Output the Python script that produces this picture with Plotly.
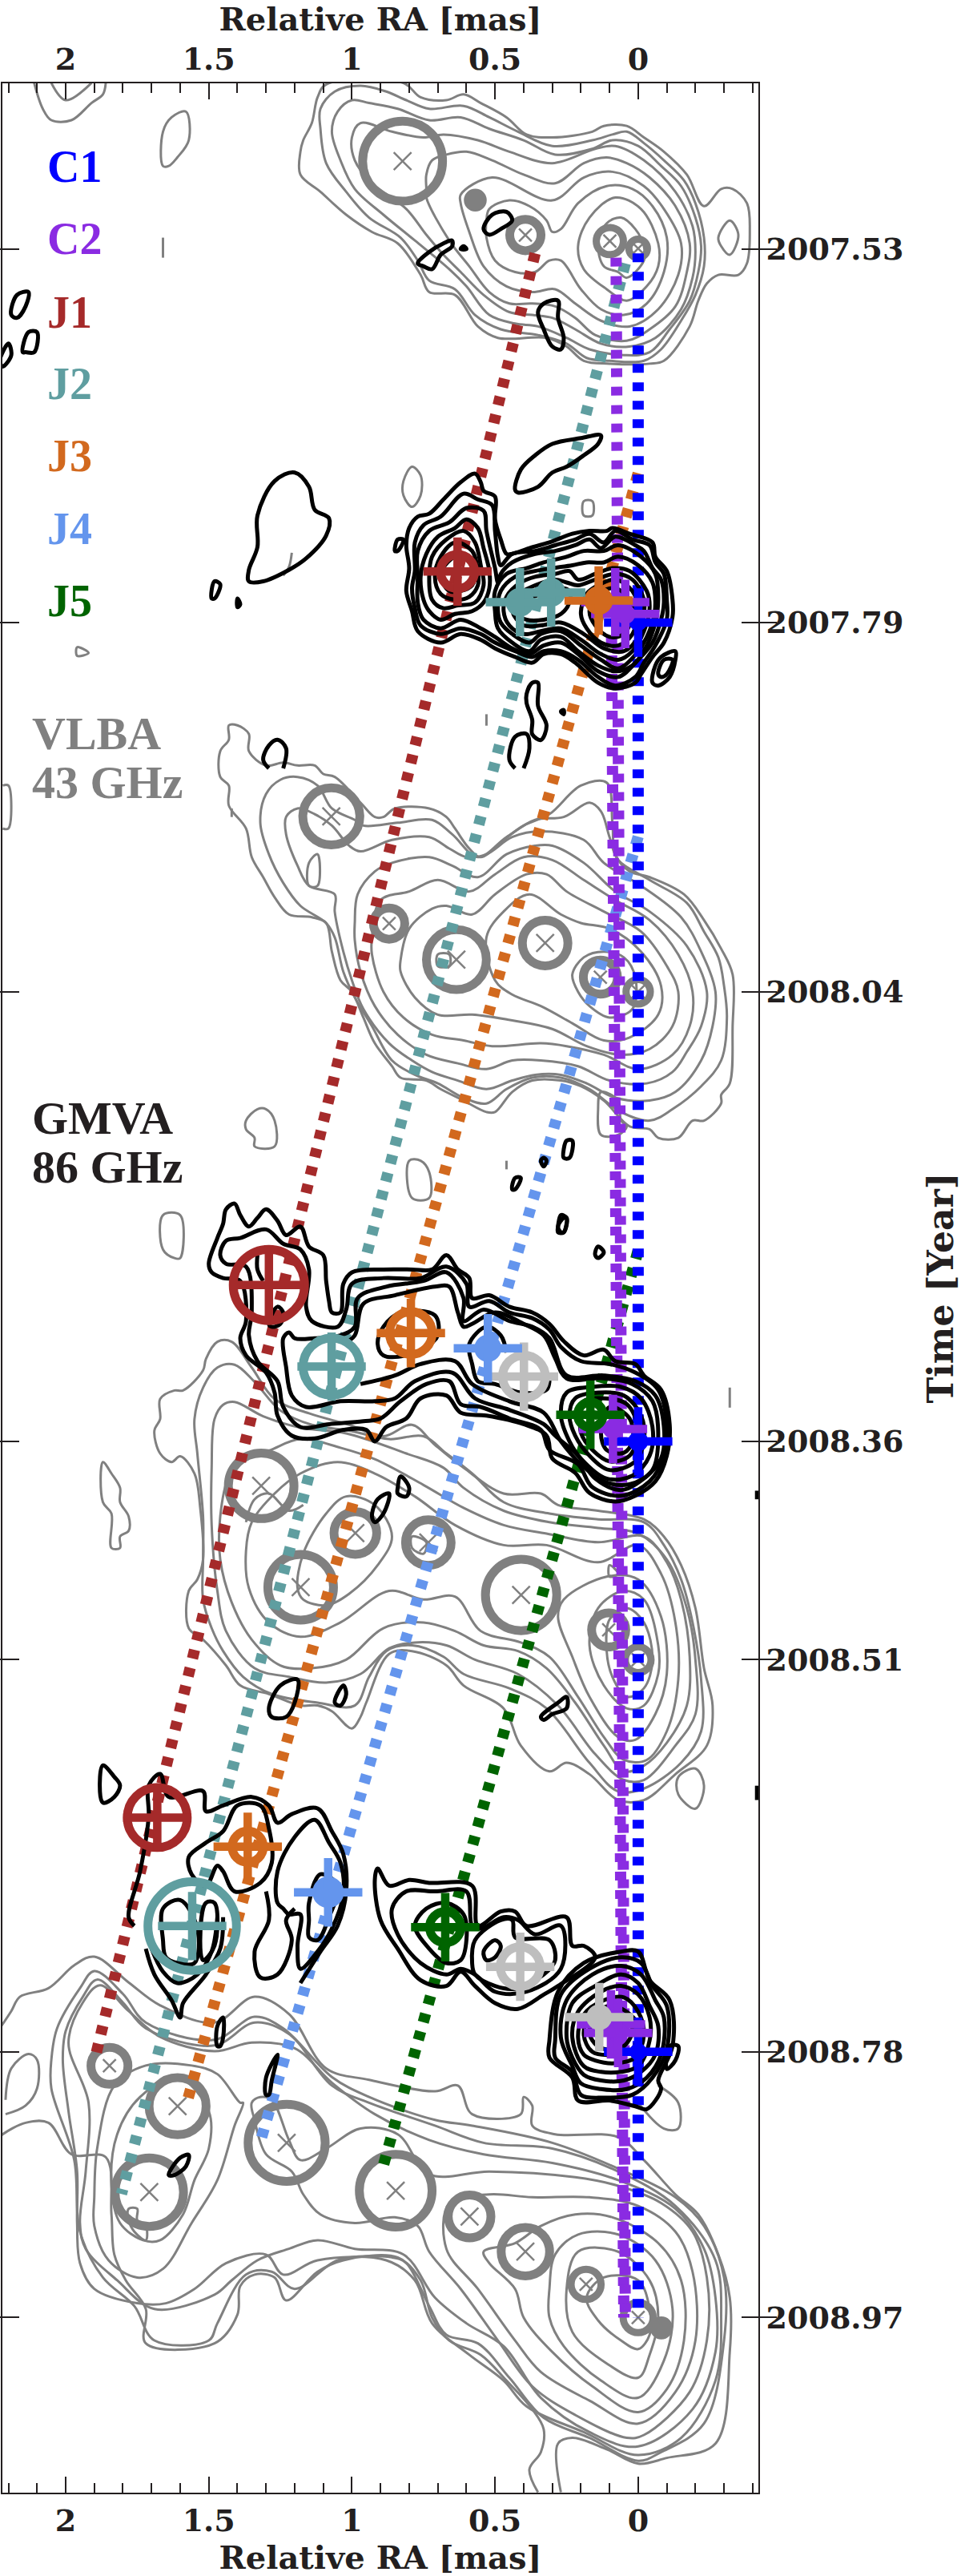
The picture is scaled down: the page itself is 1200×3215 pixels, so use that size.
import plotly.graph_objects as go

# tick epochs (true date, rounded label)
epochs = [2007.53, 2007.79, 2008.047, 2008.36, 2008.512, 2008.785, 2008.97]
epoch_labels = ["2007.53", "2007.79", "2008.04", "2008.36", "2008.51", "2008.78", "2008.97"]
ra_ticks = [2, 1.5, 1, 0.5, 0]
ra_labels = ["2", "1.5", "1", "0.5", "0"]
MAS_TO_YEAR = 0.1994  # vertical scale of the stacked maps

# contours are (relative RA, relative Dec) in mas around each epoch
# VLBA 2007.53
vlba_0753 = [
 [(1.18,.34),(1.17,.38),(1.14,.44),(1.12,.53),(1.09,.575),(.82,.58),(.76,.53),(.67,.52),(.61,.54),(.55,.51),(.46,.46),(.39,.40),(.30,.39),(.16,.41),(.12,.43),(.04,.43),(-.02,.39),(-.09,.34),(-.17,.26),(-.23,.15),(-.29,.21),(-.33,.21),(-.38,.16),(-.39,.06),(-.38,-.05),(-.35,-.09),(-.28,-.09),(-.24,-.12),(-.21,-.18),(-.18,-.27),(-.09,-.39),(-.04,-.40),(.10,-.40),(.19,-.39),(.25,-.34),(.32,-.31),(.49,-.31),(.56,-.27),(.64,-.16),(.73,-.15),(.76,-.09),(.84,.02),(.93,.06),(1.02,.12),(1.11,.20),(1.18,.26)],
 [(1.11,.42),(1.11,.49),(1.06,.55),(.97,.57),(.88,.55),(.81,.52),(.73,.49),(.61,.50),(.52,.46),(.42,.41),(.30,.36),(.16,.38),(.09,.40),(.04,.41),(-.02,.37),(-.09,.31),(-.16,.24),(-.20,.16),(-.23,.04),(-.23,-.06),(-.20,-.16),(-.15,-.25),(-.08,-.35),(-.02,-.39),(.10,-.39),(.18,-.38),(.25,-.33),(.35,-.30),(.48,-.28),(.57,-.23),(.64,-.14),(.73,-.11),(.77,-.04),(.83,.04),(.94,.11),(1.02,.20),(1.09,.30)],
 [(1.07,.41),(1.05,.48),(1.00,.52),(.94,.51),(.84,.49),(.73,.45),(.62,.46),(.52,.42),(.40,.38),(.29,.33),(.16,.35),(.09,.38),(0,.36),(-.08,.29),(-.15,.22),(-.20,.11),(-.22,.01),(-.21,-.08),(-.18,-.18),(-.11,-.28),(-.04,-.36),(.05,-.37),(.17,-.35),(.25,-.31),(.35,-.27),(.43,-.26),(.52,-.23),(.60,-.13),(.66,-.07),(.78,.03),(.89,.12),(.99,.21),(1.04,.31)],
 [(1.00,.39),(.97,.44),(.86,.41),(.75,.39),(.68,.40),(.56,.38),(.45,.34),(.30,.30),(.15,.35),(.08,.36),(-.02,.31),(-.13,.20),(-.19,.08),(-.20,-.01),(-.19,-.10),(-.15,-.21),(-.06,-.31),(.03,-.34),(.13,-.33),(.22,-.28),(.30,-.24),(.37,-.23),(.45,-.22),(.54,-.16),(.62,-.08),(.68,-.02),(.74,.05),(.81,.14),(.93,.23),(.99,.31)],
 [(.74,.21),(.74,.26),(.72,.31),(.67,.33),(.60,.34),(.51,.31),(.40,.26),(.29,.23),(.19,.30),(.11,.32),(.04,.30),(-.04,.25),(-.13,.15),(-.18,.02),(-.17,-.08),(-.13,-.20),(-.04,-.28),(.04,-.32),(.15,-.30),(.22,-.24),(.29,-.20),(.37,-.19),(.45,-.19),(.52,-.15),(.59,-.06),(.66,.03),(.74,.18)],
 [(.62,.19),(.51,.25),(.30,.17),(.19,.25),(.09,.27),(-.02,.22),(-.09,.14),(-.15,.02),(-.14,-.09),(-.07,-.21),(.03,-.27),(.13,-.25),(.22,-.19),(.29,-.14),(.37,-.15),(.46,-.13),(.54,-.06),(.59,.06),(.62,.16)],
 [(.53,.10),(.52,.14),(.45,.17),(.38,.15),(.32,.10),(.30,.06),(.27,.07),(.21,.16),(.11,.22),(.02,.21),(-.05,.15),(-.10,.04),(-.09,-.08),(-.03,-.19),(.05,-.23),(.13,-.21),(.20,-.14),(.27,-.04),(.31,-.04),(.36,-.08),(.43,-.08),(.50,-.04),(.53,.04)],
 [(.21,.01),(.17,.11),(.08,.18),(-.01,.14),(-.07,.02),(-.07,-.06),(-.03,-.13),(.04,-.18),(.11,-.14),(.19,-.07)],
 [(.14,.02),(.11,.09),(.06,.11),(.01,.07),(-.02,.01),(-.02,-.04),(.04,-.10),(.07,-.08),(.12,-.06)],
 [(-.28,.04),(-.32,.10),(-.35,.05),(-.32,-.02),(-.29,.01)],
 [(1.66,.41),(1.63,.46),(1.58,.48),(1.57,.38),(1.61,.32),(1.64,.29),(1.66,.29)],
 [(.82,-.81),(.79,-.76),(.76,-.79),(.76,-.86),(.79,-.90),(.82,-.86)],
 [(.19,-.88),(.16,-.88),(.16,-.93),(.19,-.93)],
 [(1.96,-1.39),(1.96,-1.42),(1.92,-1.41)],
]
vlba_0753_open = [
 [(2.11,.58),(2.08,.49),(2.05,.45),(1.98,.45),(1.91,.51),(1.87,.54),(1.86,.58)],
 [(2.05,.58),(2.00,.52),(1.91,.58)],
 [(1.66,.04),(1.66,-.03)],
 [(1.21,-1.06),(1.22,-1.11),(1.24,-1.14)],
]
gmva_noise_0753 = [
 [(.54,.07),(.51,.12),(.46,.13),(.44,.10),(.48,.07),(.52,.05)],
 [(.77,-.05),(.73,-.01),(.68,.02),(.65,.03),(.65,.01),(.69,-.02),(.72,-.07),(.75,-.06)],
 [(.35,-.22),(.33,-.19),(.28,-.18),(.28,-.24),(.26,-.31),(.27,-.35),(.30,-.34),(.33,-.28)],
 [(.43,-.84),(.41,-.77),(.36,-.72),(.30,-.68),(.20,-.66),(.13,-.65),(.14,-.68),(.19,-.72),(.25,-.76),(.30,-.78),(.35,-.83),(.42,-.85)],
 [(2.19,-.23),(2.17,-.16),(2.13,-.15),(2.14,-.20),(2.17,-.24)],
 [(2.15,-.36),(2.13,-.29),(2.10,-.29),(2.11,-.36),(2.14,-.36)],
 [(2.23,-.39),(2.20,-.33),(2.19,-.37),(2.22,-.41)],
 [(1.36,-1.12),(1.33,-1.04),(1.33,-.93),(1.27,-.81),(1.20,-.78),(1.15,-.83),(1.13,-.91),(1.08,-.94),(1.09,-1.00),(1.16,-1.08),(1.22,-1.12),(1.31,-1.16),(1.36,-1.16)],
 [(1.49,-1.22),(1.48,-1.16),(1.46,-1.17),(1.48,-1.22)],
 [(1.40,-1.25),(1.40,-1.22),(1.39,-1.24)],
 [(.62,0),(.61,.01),(.60,0)],
]

# GMVA 2007.79
gmva_0779 = [
 [(.80,.19),(.81,.27),(.80,.33),(.77,.37),(.73,.38),(.68,.43),(.62,.49),(.57,.52),(.55,.49),(.54,.46),(.50,.44),(.50,.36),(.48,.29),(.46,.24),(.44,.24),(.38,.26),(.31,.28),(.23,.31),(.17,.32),(.11,.32),(.09,.33),(.03,.31),(-.05,.28),(-.06,.23),(-.10,.18),(-.12,.08),(-.12,.02),(-.09,-.07),(-.05,-.12),(-.01,-.18),(.01,-.21),(.08,-.23),(.14,-.21),(.22,-.14),(.27,-.11),(.33,-.11),(.37,-.14),(.43,-.12),(.50,-.09),(.55,-.06),(.62,-.04),(.69,-.07),(.77,-.03),(.79,.04),(.81,.11)],
 [(.78,.18),(.78,.28),(.75,.34),(.69,.37),(.61,.45),(.56,.43),(.51,.41),(.50,.32),(.49,.23),(.48,.20),(.44,.24),(.36,.25),(.29,.27),(.22,.29),(.17,.31),(.12,.28),(.08,.32),(.02,.29),(-.04,.27),(-.06,.21),(-.09,.17),(-.10,.08),(-.10,.01),(-.06,-.08),(-.02,-.14),(.01,-.19),(.08,-.22),(.14,-.19),(.21,-.13),(.27,-.10),(.33,-.10),(.37,-.12),(.43,-.10),(.50,-.07),(.55,-.04),(.62,-.02),(.69,-.04),(.76,-.01),(.78,.05),(.79,.12)],
 [(.77,.16),(.77,.25),(.73,.32),(.66,.35),(.60,.40),(.54,.39),(.53,.32),(.50,.19),(.49,.14),(.48,.17),(.44,.21),(.36,.24),(.29,.25),(.22,.27),(.17,.29),(.13,.26),(.08,.30),(.01,.27),(-.02,.25),(-.05,.19),(-.08,.15),(-.09,.07),(-.08,.01),(-.05,-.07),(0,-.13),(.07,-.19),(.14,-.17),(.21,-.11),(.27,-.07),(.33,-.08),(.38,-.11),(.44,-.09),(.50,-.05),(.55,-.02),(.62,.01),(.69,-.02),(.75,.01),(.77,.07)],
 [(.76,.16),(.74,.24),(.70,.30),(.64,.33),(.60,.36),(.56,.33),(.54,.26),(.52,.18),(.52,.12),(.54,.07),(.58,.04),(.64,.03),(.69,.01),(.73,.04),(.75,.08)],
 [(.73,.16),(.72,.23),(.67,.29),(.61,.32),(.57,.28),(.55,.20),(.54,.13),(.57,.07),(.63,.06),(.68,.05),(.72,.08)],
 [(.71,.16),(.69,.23),(.64,.28),(.58,.25),(.56,.18),(.56,.13),(.59,.09),(.64,.08),(.69,.10)],
 [(.69,.17),(.64,.23),(.60,.23),(.57,.18),(.58,.13),(.62,.11),(.66,.11)],
 [(.50,.04),(.50,.11),(.46,.17),(.39,.19),(.33,.21),(.25,.23),(.19,.25),(.12,.25),(.07,.27),(-.01,.23),(-.06,.17),(-.07,.08),(-.06,0),(-.03,-.08),(.02,-.15),(.08,-.17),(.14,-.15),(.21,-.10),(.27,-.05),(.34,-.06),(.38,-.10),(.44,-.07),(.49,-.02)],
 [(.49,.04),(.48,.11),(.43,.16),(.36,.18),(.30,.19),(.23,.20),(.18,.21),(.12,.21),(.07,.23),(0,.20),(-.05,.14),(-.06,.07),(-.05,0),(0,-.10),(.07,-.16),(.13,-.13),(.20,-.08),(.27,-.03),(.34,-.04),(.38,-.07),(.44,-.04),(.48,0)],
 [(.47,.04),(.46,.09),(.41,.14),(.36,.16),(.29,.17),(.24,.18),(.21,.15),(.15,.17),(.09,.19),(.03,.18),(-.03,.11),(-.04,.05),(-.02,-.03),(.02,-.10),(.07,-.13),(.13,-.11),(.20,-.06),(.27,-.02),(.34,-.03),(.40,-.04),(.45,-.01)],
 [(.44,.04),(.43,.09),(.36,.13),(.29,.15),(.25,.14),(.21,.13),(.15,.15),(.08,.17),(.02,.15),(-.02,.08),(-.02,.03),(0,-.05),(.05,-.10),(.12,-.09),(.19,-.04),(.27,0),(.34,-.01),(.40,-.01)],
 [(.20,.03),(.18,.10),(.14,.13),(.08,.15),(.02,.11),(0,.04),(.02,-.04),(.07,-.08),(.13,-.07),(.18,-.02)],
 [(.17,.04),(.14,.10),(.08,.12),(.03,.08),(.02,.03),(.05,-.04),(.10,-.05),(.15,-.01)],
 [(.42,.03),(.40,.07),(.34,.10),(.27,.12),(.24,.11),(.24,.07),(.27,.03),(.33,.01),(.39,.01)],
 [(-.05,-.21),(-.06,-.15),(-.08,-.12),(-.13,-.10),(-.13,-.13),(-.11,-.19),(-.07,-.22)],
 [(-.07,-.18),(-.09,-.13),(-.12,-.13),(-.10,-.18),(-.08,-.19)],
 [(.85,.26),(.84,.29),(.82,.29),(.84,.25),(.85,.25)],
 [(.39,-.25),(.37,-.21),(.35,-.21),(.35,-.29),(.32,-.36),(.34,-.41),(.37,-.39),(.37,-.34),(.39,-.28)],
 [(.27,-.31),(.26,-.305),(.26,-.32)],
]
vlba_0779_open = [[(.53,-.32),(.53,-.36)]]

# VLBA 2008.04
vlba_0804 = [
 [(1.46,.84),(1.43,.88),(1.43,.93),(1.40,.93),(1.36,.90),(1.36,.84),(1.30,.79),(1.24,.80),(1.19,.79),(1.13,.79),(1.10,.76),(1.06,.75),(.97,.66),(.92,.61),(.89,.61),(.85,.64),(.73,.64),(.67,.61),(.64,.57),(.59,.50),(.55,.47),(.47,.53),(.40,.58),(.31,.62),(.20,.72),(.11,.73),(.09,.59),(.08,.48),(.03,.42),(-.04,.40),(-.16,.34),(-.23,.25),(-.29,.15),(-.33,.06),(-.33,-.12),(-.32,-.32),(-.29,-.36),(-.29,-.39),(-.23,-.45),(-.19,-.45),(-.14,-.51),(-.07,-.51),(-.04,-.48),(.03,-.47),(.12,-.38),(.20,-.33),(.27,-.31),(.37,-.31),(.44,-.35),(.50,-.42),(.53,-.42),(.61,-.38),(.69,-.34),(.74,-.31),(.83,-.30),(.86,-.26),(.92,-.18),(.96,-.09),(1.00,0),(1.04,.04),(1.07,.14),(1.09,.24),(1.14,.26),(1.22,.27),(1.27,.33),(1.31,.40),(1.35,.47),(1.37,.57),(1.43,.65),(1.43,.72),(1.46,.75)],
 [(1.32,.59),(1.30,.69),(1.25,.74),(1.19,.75),(1.12,.72),(1.07,.64),(.99,.60),(.96,.58),(.84,.59),(.72,.60),(.65,.55),(.56,.47),(.46,.54),(.36,.60),(.26,.61),(.17,.66),(.13,.63),(.10,.54),(.07,.46),(-.04,.39),(-.17,.31),(-.23,.21),(-.28,.12),(-.30,.02),(-.31,-.09),(-.29,-.24),(-.22,-.33),(-.12,-.41),(-.04,-.45),(.06,-.42),(.17,-.34),(.27,-.30),(.37,-.30),(.46,-.34),(.53,-.39),(.61,-.37),(.70,-.32),(.78,-.29),(.86,-.24),(.93,-.12),(.99,-.02),(1.03,.07),(1.06,.19),(1.09,.24),(1.18,.30),(1.24,.38),(1.29,.48)],
 [(1.23,.55),(1.23,.61),(1.19,.64),(1.13,.62),(1.07,.58),(1.01,.51),(.97,.49),(.86,.53),(.73,.54),(.66,.50),(.60,.47),(.53,.48),(.44,.54),(.34,.56),(.19,.53),(.12,.45),(-.01,.37),(-.15,.26),(-.22,.14),(-.27,0),(-.26,-.12),(-.22,-.24),(-.13,-.35),(-.04,-.38),(.08,-.37),(.18,-.32),(.27,-.29),(.36,-.29),(.44,-.31),(.53,-.34),(.63,-.31),(.72,-.28),(.79,-.24),(.87,-.18),(.96,-.06),(1.00,.04),(1.03,.14),(1.06,.28),(1.06,.34),(1.15,.37),(1.19,.44)],
 [(.99,.24),(.98,.34),(.92,.42),(.86,.45),(.73,.47),(.65,.44),(.56,.40),(.46,.48),(.36,.51),(.30,.51),(.19,.45),(.08,.35),(-.04,.28),(-.17,.16),(-.24,0),(-.22,-.12),(-.17,-.21),(-.12,-.28),(-.03,-.32),(.10,-.31),(.21,-.26),(.34,-.24),(.44,-.24),(.53,-.27),(.63,-.25),(.74,-.22),(.84,-.15),(.92,-.05),(.97,.07),(.99,.18)],
 [(.93,.19),(.90,.32),(.80,.35),(.70,.39),(.59,.35),(.50,.41),(.40,.47),(.30,.46),(.19,.39),(.08,.32),(-.04,.25),(-.14,.13),(-.19,0),(-.18,-.12),(-.12,-.22),(0,-.27),(.12,-.22),(.25,-.19),(.34,-.18),(.51,-.19),(.61,-.17),(.72,-.15),(.82,-.09),(.89,0),(.93,.13)],
 [(.83,.11),(.80,.22),(.72,.29),(.67,.30),(.58,.27),(.50,.34),(.39,.41),(.32,.41),(.25,.35),(.12,.28),(-.01,.21),(-.10,.09),(-.14,0),(-.12,-.12),(-.04,-.20),(.06,-.22),(.18,-.19),(.30,-.13),(.44,-.10),(.58,-.08),(.70,-.08),(.78,-.02),(.83,.07)],
 [(.53,.19),(.47,.28),(.38,.34),(.27,.27),(.20,.24),(.10,.22),(-.01,.14),(-.08,.02),(-.07,-.08),(.03,-.16),(.12,-.17),(.23,-.11),(.34,-.05),(.44,-.01),(.50,.04)],
 [(.23,.06),(.19,.12),(.12,.14),(.05,.12),(.01,.05),(.02,-.06),(.10,-.09),(.17,-.05),(.21,0)],
 [(1.15,.45),(1.12,.48),(1.12,.37),(1.15,.37)],
 [(.70,.13),(.66,.13),(.66,.09),(.70,.09)],
 [(.13,-.35),(.07,-.38),(.06,-.45),(.04,-.47),(.07,-.50),(.13,-.50),(.14,-.41)],
 [(1.37,-.45),(1.33,-.41),(1.30,-.41),(1.27,-.45),(1.27,-.54),(1.34,-.54),(1.34,-.51),(1.37,-.48)],
 [(.80,-.59),(.76,-.59),(.73,-.63),(.73,-.72),(.79,-.72)],
 [(1.66,-.78),(1.60,-.78),(1.60,-.93),(1.62,-.93),(1.66,-.90)],
]
vlba_0804_open = [
 [(1.42,.64),(1.42,.61)],
 [(2.22,.72),(2.20,.72),(2.20,.57),(2.22,.57)],
 [(.46,-.59),(.46,-.62)],
]
gmva_noise_0804 = [
 [(.26,-.55),(.25,-.52),(.23,-.52),(.24,-.58),(.26,-.58)],
 [(.34,-.59),(.33,-.58),(.32,-.59),(.33,-.61)],
 [(.44,-.69),(.43,-.65),(.41,-.65),(.43,-.69)],
 [(.28,-.82),(.27,-.78),(.25,-.79),(.26,-.84),(.28,-.84)],
]
gmva_noise_0804_open = [
 [(.40,.78),(.38,.85),(.39,.90),(.43,.89),(.45,.81),(.43,.78)],
 [(1.29,.78),(1.31,.81),(1.29,.86),(1.26,.88),(1.23,.85),(1.24,.78)],
]

# GMVA 2008.36
gmva_0836 = [
 [(1.50,.62),(1.47,.71),(1.45,.76),(1.44,.81),(1.41,.83),(1.39,.79),(1.36,.75),(1.33,.78),(1.30,.81),(1.26,.77),(1.23,.72),(1.18,.75),(1.15,.68),(1.10,.65),(1.09,.56),(1.08,.49),(1.07,.45),(1.04,.45),(1.03,.55),(1.00,.59),(.89,.60),(.79,.60),(.72,.60),(.67,.65),(.63,.60),(.59,.57),(.58,.50),(.52,.51),(.45,.47),(.37,.45),(.31,.41),(.26,.35),(.19,.30),(.12,.32),(.08,.28),(.01,.27),(-.02,.23),(-.08,.18),(-.11,.06),(-.10,-.05),(-.06,-.14),(.01,-.19),(.08,-.21),(.17,-.18),(.22,-.11),(.30,-.06),(.32,.02),(.40,.06),(.53,.09),(.62,.10),(.67,.16),(.76,.15),(.81,.08),(.88,.05),(.92,0),(.95,.04),(1.03,.04),(1.13,.01),(1.21,.02),(1.26,.09),(1.27,.17),(1.30,.24),(1.37,.30),(1.39,.36),(1.37,.42),(1.39,.56),(1.45,.57),(1.49,.59)],
 [(1.46,.65),(1.44,.70),(1.39,.71),(1.30,.74),(1.24,.69),(1.18,.67),(1.15,.60),(1.16,.47),(1.14,.42),(1.05,.40),(1.02,.46),(1.00,.55),(.89,.57),(.76,.57),(.67,.61),(.60,.55),(.59,.47),(.52,.49),(.45,.45),(.37,.43),(.31,.39),(.27,.33),(.20,.28),(.10,.27),(.01,.24),(-.07,.18),(-.10,.06),(-.09,-.05),(-.04,-.14),(.06,-.19),(.16,-.16),(.21,-.08),(.31,-.03),(.34,.04),(.45,.08),(.55,.12),(.62,.13),(.66,.21),(.74,.20),(.83,.14),(.90,.08),(.96,.07),(1.08,.06),(1.18,.05),(1.24,.12),(1.26,.21),(1.33,.28),(1.36,.37),(1.35,.45),(1.37,.61),(1.44,.62)],
 [(1.24,.36),(1.22,.38),(1.20,.36),(1.13,.36),(1.04,.37),(.99,.40),(.98,.50),(.88,.54),(.75,.56),(.67,.59),(.61,.50),(.61,.42),(.54,.46),(.45,.42),(.37,.40),(.31,.36),(.25,.23),(.12,.23),(.01,.21),(-.06,.16),(-.09,.05),(-.08,-.06),(-.02,-.13),(.06,-.17),(.15,-.13),(.21,-.05),(.29,.02),(.33,.06),(.45,.11),(.57,.15),(.65,.24),(.78,.21),(.85,.15),(.92,.14),(1.04,.14),(1.16,.12),(1.21,.16),(1.23,.26)],
 [(.91,.34),(.89,.40),(.83,.45),(.71,.44),(.70,.37),(.74,.33),(.81,.30),(.89,.30)],
 [(.27,.09),(.25,.17),(.16,.19),(.06,.19),(-.01,.15),(-.05,.05),(-.04,-.05),(.02,-.12),(.11,-.13),(.20,-.06),(.24,0)],
 [(.24,.09),(.22,.15),(.14,.17),(.05,.16),(-.01,.09),(-.02,0),(.01,-.07),(.10,-.10),(.17,-.05),(.22,.02)],
 [(.20,.09),(.19,.14),(.12,.15),(.04,.13),(0,.04),(.03,-.05),(.10,-.07),(.16,-.03),(.20,.03)],
 [(.13,.03),(.10,.12),(.03,.08),(.02,0),(.05,-.04),(.11,-.03)],
 [(1.29,.41),(1.26,.47),(1.24,.45),(1.25,.41),(1.28,.40)],
 [(.28,.75),(.26,.78),(.25,.78),(.26,.73),(.27,.73)],
 [(.15,.66),(.14,.68),(.12,.66),(.14,.64),(.15,.65)],
]
gmva_0836_open = [
 [(.97,.20),(.85,.23),(.76,.27),(.64,.28),(.58,.20),(.45,.14),(.33,.10),(.27,0),(.20,-.08),(.12,-.14),(.03,-.15),(-.05,-.10),(-.07,.03),(-.05,.14),(.02,.20),(.12,.22),(.25,.22),(.29,.29),(.33,.37),(.40,.41),(.50,.45),(.58,.41),(.61,.40),(.63,.45),(.66,.54),(.71,.54),(.85,.51),(.96,.48),(.99,.37),(1.03,.34)],
 [(.46,.31),(.48,.37),(.53,.40),(.59,.34),(.58,.27),(.56,.21),(.50,.20),(.41,.17),(.32,.18),(.31,.24)],
 [(1.33,.65),(1.33,.60),(1.31,.56)],
]

# VLBA 2008.51
vlba_0851 = [
 [(1.69,.80),(1.67,.84),(1.67,.91),(1.62,.94),(1.59,.94),(1.52,1.01),(1.51,1.05),(1.47,1.11),(1.42,1.11),(1.35,1.02),(1.27,.91),(1.15,.86),(1.01,.82),(.89,.78),(.79,.82),(.71,.75),(.61,.67),(.47,.58),(.34,.58),(.28,.54),(.14,.52),(-.02,.49),(-.09,.43),(-.15,.33),(-.20,.18),(-.23,-.03),(-.26,-.16),(-.24,-.30),(-.13,-.40),(-.02,-.49),(.07,-.49),(.17,-.40),(.25,-.36),(.31,-.39),(.41,-.30),(.47,-.17),(.61,-.09),(.67,-.02),(.79,.03),(.87,.02),(.95,-.15),(.97,-.20),(1.00,-.24),(1.07,-.18),(1.12,-.16),(1.18,-.16),(1.29,-.12),(1.39,-.09),(1.44,-.02),(1.52,.07),(1.57,.11),(1.57,.24),(1.54,.28),(1.52,.35),(1.53,.53),(1.55,.65),(1.60,.71),(1.63,.69),(1.67,.72)],
 [(1.55,.84),(1.52,.95),(1.47,1.02),(1.41,1.03),(1.34,.97),(1.25,.87),(1.14,.82),(1.01,.80),(.87,.77),(.75,.78),(.67,.72),(.58,.65),(.47,.55),(.31,.51),(.14,.49),(-.02,.48),(-.09,.40),(-.15,.28),(-.19,.13),(-.22,-.07),(-.22,-.25),(-.15,-.36),(-.02,-.45),(.07,-.46),(.17,-.36),(.32,-.17),(.45,-.10),(.61,-.05),(.68,.01),(.79,.05),(.88,.03),(.94,-.06),(.99,-.16),(1.12,-.15),(1.28,-.12),(1.38,-.06),(1.45,.03),(1.49,.11),(1.52,.21),(1.52,.35),(1.52,.50),(1.54,.72)],
 [(1.49,.67),(1.48,.84),(1.45,.89),(1.41,.90),(1.31,.85),(1.18,.81),(1.02,.79),(.81,.72),(.68,.67),(.61,.60),(.47,.52),(.31,.48),(.14,.46),(0,.44),(-.10,.35),(-.17,.18),(-.20,0),(-.20,-.19),(-.13,-.30),(-.02,-.42),(.05,-.42),(.15,-.33),(.28,-.16),(.42,-.05),(.57,0),(.67,.05),(.78,.06),(.87,.04),(.97,-.05),(1.09,-.08),(1.22,-.06),(1.34,-.03),(1.44,.10),(1.47,.24),(1.49,.47)],
 [(1.46,.35),(1.46,.50),(1.43,.64),(1.38,.70),(1.29,.73),(1.18,.77),(1.04,.74),(.92,.70),(.75,.61),(.61,.53),(.47,.47),(.32,.44),(.14,.41),(-.02,.43),(-.10,.34),(-.15,.21),(-.18,.01),(-.17,-.16),(-.10,-.29),(-.02,-.37),(.05,-.39),(.12,-.30),(.22,-.15),(.32,-.03),(.42,.03),(.54,.05),(.64,.10),(.75,.13),(.89,.11),(1.02,0),(1.14,-.03),(1.25,-.02),(1.35,.07),(1.42,.20)],
 [(1.37,.38),(1.36,.25),(1.29,.13),(1.18,.08),(1.04,.13),(.87,.24),(.75,.21),(.64,.22),(.55,.10),(.41,.06),(.31,.01),(.21,-.13),(.12,-.27),(.05,-.35),(-.03,-.35),(-.10,-.25),(-.14,-.07),(-.13,.13),(-.08,.30),(0,.40),(.14,.34),(.32,.40),(.47,.40),(.64,.47),(.78,.57),(.92,.65),(1.05,.69),(1.18,.65),(1.27,.58),(1.35,.48)],
 [(.28,.15),(.26,.21),(.11,.29),(0,.28),(-.08,.15),(-.10,-.05),(-.06,-.19),(.01,-.28),(.07,-.27),(.17,-.13),(.23,.01)],
 [(.17,.05),(.14,.18),(.05,.24),(-.02,.21),(-.07,.05),(-.07,-.05),(-.02,-.16),(.04,-.17),(.12,-.09)],
 [(.11,.03),(.10,.14),(.04,.18),(-.02,.13),(-.05,0),(-.02,-.10),(.04,-.13),(.09,-.06)],
 [(1.19,.25),(1.17,.37),(1.09,.51),(1.02,.57),(.92,.54),(.86,.43),(.91,.33),(1.01,.23),(1.09,.19),(1.17,.21)],
 [(1.87,.69),(1.84,.65),(1.81,.60),(1.81,.55),(1.78,.50),(1.78,.45),(1.81,.43),(1.81,.39),(1.84,.39),(1.84,.51),(1.87,.55)],
 [(-.14,-.41),(-.20,-.38),(-.23,-.44),(-.20,-.52),(-.14,-.47)],
 [(.79,.43),(.74,.41),(.75,.37),(.79,.39)],
 [(.10,.33),(.07,.30),(.10,.29)],
]
vlba_0851_open = [
 [(1.37,.48),(1.34,.56),(1.29,.58),(1.22,.52),(1.17,.54)],
 [(-.32,.95),(-.32,.88)],
]
gmva_noise_0851 = [
 [(1.29,-.17),(1.25,-.09),(1.19,-.07),(1.20,-.15),(1.23,-.20),(1.28,-.20)],
 [(1.06,-.15),(1.03,-.09),(1.02,-.12),(1.04,-.16)],
 [(.93,.50),(.91,.56),(.87,.58),(.89,.51),(.92,.48)],
 [(.84,.60),(.83,.64),(.80,.60),(.81,.57),(.84,.58)],
 [(.34,-.20),(.28,-.15),(.25,-.13),(.25,-.17),(.30,-.19),(.33,-.21)],
]
gmva_noise_0851_open = [
 [(-.415,.59),(-.415,.56)],
 [(-.415,-.44),(-.415,-.49)],
]

# GMVA 2008.78
gmva_0878 = [
 [(1.87,1.00),(1.88,.96),(1.87,.87),(1.83,.89),(1.81,.93),(1.83,.96)],
 [(1.56,.62),(1.57,.68),(1.51,.73),(1.45,.77),(1.40,.86),(1.32,.86),(1.29,.78),(1.28,.66),(1.32,.59),(1.41,.56),(1.45,.63),(1.47,.65),(1.51,.58)],
 [(1.26,.52),(1.26,.63),(1.20,.75),(1.13,.81),(1.08,.73),(1.04,.66),(1.03,.55),(1.07,.43),(1.12,.35),(1.18,.29),(1.19,.37),(1.18,.48),(1.22,.48),(1.24,.50)],
 [(1.15,.46),(1.15,.52),(1.11,.62),(1.05,.58),(1.08,.47),(1.12,.39),(1.15,.40)],
 [(1.66,.39),(1.66,.50),(1.60,.53),(1.54,.43),(1.55,.31),(1.61,.31),(1.65,.33)],
 [(1.51,.52),(1.48,.52),(1.48,.37),(1.52,.32),(1.53,.39)],
 [(.92,.60),(.91,.64),(.87,.58),(.80,.60),(.73,.59),(.58,.58),(.56,.44),(.48,.49),(.43,.49),(.39,.44),(.25,.47),(.23,.37),(.19,.37),(.15,.33),(.28,.23),(.33,.20),(.42,.15),(.50,.17),(.57,.23),(.62,.28),(.67,.23),(.76,.25),(.84,.36),(.90,.46)],
 [(.86,.50),(.81,.56),(.71,.56),(.60,.56),(.58,.44),(.55,.43),(.47,.47),(.42,.46),(.36,.41),(.27,.44),(.27,.29),(.39,.21),(.50,.21),(.57,.27),(.62,.29),(.67,.27),(.76,.31),(.84,.41)],
 [(.78,.44),(.74,.50),(.67,.52),(.61,.48),(.60,.39),(.62,.32),(.67,.31),(.73,.36)],
 [(.58,.31),(.57,.39),(.48,.46),(.44,.46),(.43,.40),(.31,.39),(.29,.32),(.33,.27),(.43,.22),(.50,.23),(.57,.27)],
 [(.54,.35),(.50,.39),(.48,.37),(.50,.33),(.53,.32)],
 [(.31,.04),(.28,.21),(.19,.31),(.06,.35),(0,.35),(-.04,.25),(-.11,.18),(-.12,.02),(-.07,-.10),(-.08,-.13),(-.03,-.20),(.01,-.19),(.10,-.17),(.21,-.17),(.23,-.09),(.31,-.02)],
 [(-.11,.02),(-.14,.02),(-.13,-.03),(-.10,-.06)],
 [(.29,.04),(.27,.20),(.17,.29),(.06,.33),(-.01,.31),(-.05,.23),(-.10,.16),(-.10,.01),(-.05,-.09),(.02,-.15),(.12,-.16),(.20,-.15),(.23,-.07),(.29,-.02)],
 [(.27,.05),(.25,.18),(.16,.27),(.06,.30),(-.01,.27),(-.06,.18),(-.09,.12),(-.08,-.01),(-.03,-.09),(.04,-.13),(.13,-.13),(.20,-.11),(.23,-.05)],
 [(.25,.05),(.23,.17),(.15,.23),(.06,.27),(0,.24),(-.04,.16),(-.07,.09),(-.06,-.01),(-.01,-.07),(.05,-.10),(.13,-.10),(.19,-.08),(.23,-.02)],
 [(.23,.05),(.21,.14),(.13,.21),(.06,.23),(0,.20),(-.04,.12),(-.04,.04),(0,-.05),(.06,-.07),(.13,-.07),(.19,-.05)],
 [(.21,.05),(.19,.13),(.12,.18),(.05,.19),(0,.14),(-.02,.06),(.01,-.02),(.08,-.04),(.15,-.03),(.19,-.01)],
 [(.19,.06),(.17,.12),(.10,.16),(.04,.14),(0,.09),(.02,.01),(.09,-.01),(.16,0)],
 [(.17,.08),(.13,.12),(.06,.12),(.02,.08),(.05,.02),(.12,.01),(.16,.04)],
 [(1.64,-.43),(1.60,-.37),(1.57,-.36),(1.58,-.40),(1.62,-.43)],
 [(1.30,-.15),(1.30,-.09),(1.26,-.01),(1.28,-.10),(1.29,-.15)],
 [(1.47,.02),(1.47,.09),(1.45,.12),(1.45,.05),(1.46,.02)],
]
gmva_0878_open = [
 [(1.76,.44),(1.78,.47),(1.74,.63),(1.71,.82),(1.71,.93),(1.67,.97),(1.64,.89),(1.52,.91),(1.51,.84),(1.45,.86),(1.35,.89),(1.29,.86),(1.26,.80),(1.21,.83),(1.12,.85),(1.07,.77),(1.03,.69),(1.02,.56),(1.05,.44),(1.11,.35),(1.18,.24)],
 [(1.30,.56),(1.29,.46),(1.34,.35),(1.32,.26),(1.26,.27),(1.21,.39),(1.23,.46),(1.20,.50)],
 [(1.72,.36),(1.69,.27),(1.63,.18),(1.60,.12),(1.59,.17),(1.51,.27),(1.46,.36),(1.45,.47)],
 [(1.70,.36),(1.66,.28),(1.61,.24),(1.54,.27),(1.49,.35),(1.47,.47)],
]

# VLBA 2008.97
vlba_0897 = [
 [(2.05,.90),(2.03,1.01),(1.95,1.15),(1.90,1.21),(1.80,1.13),(1.72,1.03),(1.48,.97),(1.34,1.05),(1.24,1.01),(1.07,.84),(.94,.77),(.71,.69),(.58,.67),(.30,.61),(.07,.52),(-.13,.42),(-.23,.32),(-.30,.14),(-.30,-.08),(-.23,-.37),(-.08,-.47),(0,-.50),(.17,-.42),(.33,-.35),(.45,-.21),(.56,-.09),(.67,-.06),(.73,.04),(.81,.19),(.86,.21),(1.05,.20),(1.20,.10),(1.28,.16),(1.37,.15),(1.47,-.02),(1.50,-.08),(1.69,-.08),(1.76,.04),(1.87,.14),(1.95,.30),(1.97,.55),(2.05,.80)],
 [(1.95,.19),(1.90,.10),(1.75,.05),(1.65,.05),(1.55,.10),(1.44,.19),(1.30,.22),(1.24,.15),(1.12,.20),(.88,.20),(.78,.13),(.72,-.02),(.59,-.13),(.47,-.22),(.39,-.31),(.19,-.40),(0,-.48),(-.15,-.42),(-.27,-.22),(-.29,0),(-.27,.20),(-.13,.39),(.07,.51),(.30,.59),(.54,.61),(.71,.67),(.94,.75),(1.07,.81),(1.22,.99),(1.34,1.03),(1.48,.95),(1.72,1.01),(1.80,1.10),(1.89,1.18),(1.94,1.12),(2.00,1.00),(2.01,.90),(1.99,.72),(1.96,.51),(1.96,.33)],
 [(1.95,.33),(1.93,.51),(1.92,.75),(1.99,.96),(1.94,1.10),(1.88,1.16),(1.78,1.07),(1.67,.98),(1.48,.93),(1.35,.96),(1.20,.94),(1.07,.82),(.92,.71),(.73,.62),(.54,.57),(.30,.54),(.07,.48),(-.13,.38),(-.23,.24),(-.27,.07),(-.27,-.12),(-.19,-.32),(0,-.45),(.17,-.40),(.34,-.28),(.47,-.10),(.60,-.02),(.71,.07),(.82,.22),(.99,.24),(1.12,.27),(1.22,.24),(1.33,.20),(1.42,.13),(1.48,.08),(1.69,.03),(1.82,.13),(1.93,.24)],
 [(1.90,.42),(1.89,.59),(1.83,.81),(1.72,.88),(1.56,.88),(1.47,.85),(1.39,.75),(1.38,.75),(1.41,.67),(1.47,.48),(1.56,.33),(1.66,.17),(1.75,.14),(1.85,.20),(1.90,.32)],
 [(1.84,.46),(1.82,.64),(1.74,.77),(1.61,.84),(1.50,.72),(1.50,.59),(1.55,.48),(1.59,.36),(1.67,.27),(1.73,.27),(1.81,.33)],
 [(1.78,.38),(1.75,.38),(1.75,.34),(1.72,.32),(1.72,.27),(1.76,.30),(1.78,.34)],
 [(.73,.50),(.52,.51),(.22,.49),(.07,.46),(-.08,.40),(-.19,.30),(-.24,.14),(-.24,-.08),(-.18,-.26),(-.02,-.41),(.04,-.42),(.22,-.34),(.37,-.24),(.49,-.08),(.62,.10),(.73,.23),(.77,.32),(.85,.35),(.99,.33),(1.11,.36),(1.17,.43),(1.21,.51),(1.30,.57),(1.34,.69),(1.35,.75),(1.32,.77),(1.28,.76),(1.22,.62),(1.18,.55),(1.09,.59),(.97,.66),(.84,.64)],
 [(.67,.24),(.66,.40),(.52,.43),(.37,.42),(.17,.42),(0,.39),(-.13,.30),(-.19,.16),(-.20,-.08),(-.13,-.26),(0,-.37),(.17,-.29),(.34,-.19),(.43,-.08),(.56,.10)],
 [(.54,.23),(.52,.19),(.43,.10),(.40,0),(.30,-.12),(.16,-.24),(0,-.33),(-.10,-.25),(-.16,-.08),(-.15,.13),(-.07,.26),(.09,.35),(.22,.36),(.34,.32),(.43,.26)],
 [(.31,.10),(.29,.22),(.21,.29),(.07,.29),(-.06,.20),(-.12,.03),(-.09,-.15),(0,-.28),(.13,-.22),(.26,-.10),(.31,0)],
 [(.25,.10),(.21,.23),(.07,.23),(-.04,.13),(-.07,0),(-.04,-.13),(0,-.21),(.11,-.16),(.23,-.05)],
 [(.18,.07),(.12,.14),(0,.13),(-.04,.03),(-.04,-.06),(0,-.11),(.06,-.08),(.14,-.01)],
]
vlba_0897_open = [
 [(2.23,1.01),(2.19,1.07),(2.16,1.12),(2.06,1.15),(1.97,1.23),(1.90,1.26),(1.78,1.17),(1.67,1.09),(1.48,1.03),(1.34,1.12),(1.22,1.06),(1.09,.87),(.94,.83),(.71,.79),(.63,.81),(.58,.71),(.41,.71),(.40,.77),(.37,.74),(.37,.67),(.29,.64),(.07,.63),(-.02,.55),(-.13,.43),(-.21,.36),(-.28,.22),(-.32,.07),(-.32,-.12),(-.27,-.44),(-.10,-.49),(0,-.51),(.11,-.46),(.23,-.42),(.28,-.44),(.27,-.61)],
 [(2.23,.63),(2.22,.64),(2.14,.68),(2.06,.68),(1.98,.57),(1.86,.56),(1.84,.36),(1.83,.22),(1.79,.13),(1.72,.03),(1.72,-.09),(1.48,-.09),(1.40,.01),(1.39,.11),(1.34,.15),(1.27,.14),(1.23,.06),(1.12,.16),(1.03,.20),(.84,.21),(.76,.13),(.72,0),(.66,-.08),(.55,-.13),(.46,-.22),(.37,-.32),(.33,-.39),(.34,-.47),(.38,-.53),(.35,-.61)],
 [(2.21,.76),(2.19,.87),(2.13,.92),(2.10,.90),(2.10,.80),(2.14,.74),(2.21,.71)],
 [(-.07,.81),(-.14,.75),(-.14,.66),(-.09,.66),(0,.75)],
]

# model-fit components of the VLBA maps: RA, Dec, FWHM (mas)
vlba_comp_epochs = [0, 2, 4, 6]
vlba_comp_ra = [
 [.823, .569, .394, .099, 0],
 [1.072, .870, .635, .325, .132, 0],
 [1.317, .988, 1.179, .733, .409, .103, 0],
 [1.847, 1.609, 1.708, 1.228, .847, .589, .394, .182, 0, -.081],
]
vlba_comp_dec = [
 [.307, .171, .049, .028, .002],
 [.612, .238, .112, .170, .051, 0],
 [.607, .442, .253, .409, .226, .104, 0],
 [.879, .738, .438, .610, .443, .353, .230, .116, 0, -.036],
]
vlba_comp_fwhm = [
 [.31, .08, .14, .12, .09],
 [.23, .14, .24, .19, .15, .11],
 [.26, .18, .26, .19, .28, .15, .115],
 [.16, .23, .27, .30, .285, .18, .20, .13, .13, .08],
]

# GMVA components, C1 first so later ones sit on top
gmva_comp_epochs = [1, 3, 5]
gmva_comp_names = [
 ["C1", "C2", "C2", "J3", "J2", "J2", "J1"],
 ["C1", "C2", "J5", "X", "J4", "J3", "J2", "J1"],
 ["C1", "C2", "C2", "J5", "J4", "J3", "J2", "J1", "X", "X"],
]
gmva_comp_ra = [
 [0, .080, .045, .138, .304, .413, .631],
 [0, .088, .167, .399, .525, .794, 1.071, 1.290],
 [0, .095, .070, .674, 1.083, 1.364, 1.558, 1.680, .412, .136],
]
gmva_comp_dec = [
 [0, .071, .030, .077, .105, .071, .178],
 [0, .043, .093, .226, .325, .378, .261, .546],
 [0, .096, .066, .435, .557, .716, .439, .818, .297, .121],
]
gmva_comp_fwhm = [
 [.06, .07, .07, .10, .10, .10, .15],
 [.07, .07, .12, .18, .095, .18, .23, .28],
 [.06, .07, .07, .14, .11, .14, .34, .24, .17, .09],
]

# component tracks: (RA, year) at both ends
track_names = ["J5", "J4", "J3", "J2", "J1", "C2", "C2", "C1"]
track_ra0 = [0, 0, 0, .045, .36, .093, .077, 0]
track_year0 = [2008.227, 2007.939, 2007.686, 2007.54, 2007.533, 2007.80, 2007.536, 2007.533]
track_ra1 = [.897, 1.319, 1.576, 1.805, 1.897, .05, .045, 0]
track_year1 = [2008.869, 2008.847, 2008.82, 2008.884, 2008.789, 2008.97, 2008.969, 2008.97]

colors = {"C1": "#0000ff", "C2": "#8a2be2", "J1": "#a52a2a", "J2": "#5f9ea0",
          "J3": "#d2691e", "J4": "#6495ed", "J5": "#006400", "X": "#bebebe"}
legend_names = ["C1", "C2", "J1", "J2", "J3", "J4", "J5"]
legend_years = [2007.4726, 2007.5227, 2007.574, 2007.624, 2007.674, 2007.725, 2007.775]

GREY = "#808080"
INK = "#231f20"
FONT = "Liberation Serif"
AXIS_FONT = "DejaVu Serif"
PX_PER_MAS = 357.5

fig = go.Figure()


def to_year(epoch, dec):
    return epoch - dec * MAS_TO_YEAR


def add_contours(contours, epoch, color, width, closed=True):
    xs, ys = [], []
    for c in contours:
        pts = list(c) + [c[0]] if closed else list(c)
        xs += [p[0] for p in pts] + [None]
        ys += [to_year(epoch, p[1]) for p in pts] + [None]
    fig.add_trace(go.Scatter(x=xs, y=ys, mode="lines", hoverinfo="skip",
                             line=dict(color=color, width=width, shape="spline", smoothing=1.0)))


def add_ring(x, y, color, diam, lw, solid_below):
    # small components are drawn nearly solid
    if diam <= solid_below:
        lw = diam / 2
    fig.add_trace(go.Scatter(x=[x], y=[y], mode="markers", hoverinfo="skip",
                             marker=dict(symbol="circle-open", size=diam - lw, color=color,
                                         line=dict(color=color, width=lw))))


# grey maps first
add_contours(vlba_0753, epochs[0], GREY, 3)
add_contours(vlba_0753_open, epochs[0], GREY, 3, closed=False)
add_contours(vlba_0779_open, epochs[1], GREY, 3, closed=False)
add_contours(vlba_0804, epochs[2], GREY, 3)
add_contours(vlba_0804_open, epochs[2], GREY, 3, closed=False)
add_contours(vlba_0851, epochs[4], GREY, 3)
add_contours(vlba_0851_open, epochs[4], GREY, 3, closed=False)
add_contours(vlba_0897, epochs[6], GREY, 3)
add_contours(vlba_0897_open, epochs[6], GREY, 3, closed=False)

for e, ras, decs, fwhms in zip(vlba_comp_epochs, vlba_comp_ra, vlba_comp_dec, vlba_comp_fwhm):
    for ra, dec, w in zip(ras, decs, fwhms):
        d = w * PX_PER_MAS
        y = to_year(epochs[e], dec)
        lw = 11 if d >= 50 else 9
        add_ring(ra, y, GREY, d, lw, 30)
        if d > 30:
            fig.add_trace(go.Scatter(x=[ra], y=[y], mode="markers", hoverinfo="skip",
                                     marker=dict(symbol="x-thin-open", size=22 if d >= 60 else 16, color=GREY,
                                                 line=dict(color=GREY, width=2.5))))

# dotted tracks
for n, ra0, y0, ra1, y1 in zip(track_names, track_ra0, track_year0, track_ra1, track_year1):
    fig.add_trace(go.Scatter(x=[ra0, ra1], y=[y0, y1], mode="lines", hoverinfo="skip",
                             line=dict(color=colors[n], width=14, dash="11px,12px")))

# black maps
add_contours(gmva_noise_0753, epochs[0], "black", 5)
add_contours(gmva_0779, epochs[1], "black", 5)
add_contours(gmva_noise_0804, epochs[2], "black", 5)
add_contours(gmva_noise_0804_open, epochs[2], "black", 5, closed=False)
add_contours(gmva_0836, epochs[3], "black", 5)
add_contours(gmva_0836_open, epochs[3], "black", 5, closed=False)
add_contours(gmva_noise_0851, epochs[4], "black", 5)
add_contours(gmva_noise_0851_open, epochs[4], "black", 5, closed=False)
add_contours(gmva_0878, epochs[5], "black", 5)
add_contours(gmva_0878_open, epochs[5], "black", 5, closed=False)

for e, names, ras, decs, fwhms in zip(gmva_comp_epochs, gmva_comp_names, gmva_comp_ra, gmva_comp_dec, gmva_comp_fwhm):
    for n, ra, dec, w in zip(names, ras, decs, fwhms):
        y = to_year(epochs[e], dec)
        add_ring(ra, y, colors[n], w * PX_PER_MAS, 11, 40)
        fig.add_trace(go.Scatter(x=[ra], y=[y], mode="markers", hoverinfo="skip",
                                 marker=dict(symbol="cross-thin-open", size=61, color=colors[n],
                                             line=dict(color=colors[n], width=10.5))))

# keeps the top axis alive
fig.add_trace(go.Scatter(x=[None], y=[None], xaxis="x2", hoverinfo="skip"))

for n, y in zip(legend_names, legend_years):
    fig.add_annotation(x=2.07, y=y, text=n, showarrow=False, xanchor="left",
                       font=dict(family=FONT, size=56, color=colors[n], weight="bold"))
for text, y, col in [("VLBA", 2007.867, GREY), ("43 GHz", 2007.901, GREY),
                     ("GMVA", 2008.135, INK), ("86 GHz", 2008.169, INK)]:
    fig.add_annotation(x=2.123, y=y, text=text, showarrow=False, xanchor="left",
                       font=dict(family=FONT, size=58, color=col, weight="bold"))

tick_font = dict(family=AXIS_FONT, size=38, color=INK, weight="bold")
title_font = dict(family=AXIS_FONT, size=40, color=INK, weight="bold")
x_axis = dict(range=[2.221, -0.42], tickvals=ra_ticks, ticktext=ra_labels, ticks="inside",
              ticklen=20, tickwidth=1.5, tickcolor=INK, showgrid=False, zeroline=False,
              showline=True, linecolor=INK, linewidth=2, tickfont=tick_font, ticklabelstandoff=0,
              minor=dict(tick0=0, dtick=0.1, ticks="inside", ticklen=12, tickwidth=1.5, tickcolor=INK))

fig.update_layout(
    width=1200, height=3215, showlegend=False,
    paper_bgcolor="white", plot_bgcolor="white",
    margin=dict(l=3, r=253, t=104, b=104, autoexpand=False),
    xaxis=dict(x_axis, title=dict(text="Relative RA [mas]", font=title_font, standoff=3)),
    xaxis2=dict(x_axis, overlaying="x", side="top", anchor="y",
                title=dict(text="Relative RA [mas]", font=title_font, standoff=3)),
    yaxis=dict(range=[2009.0919, 2007.4146], side="right", tickvals=epochs, ticktext=epoch_labels,
               ticks="inside", ticklen=21, tickwidth=1.5, tickcolor=INK, mirror="allticks",
               showgrid=False, zeroline=False, showline=True, linecolor=INK, linewidth=2,
               tickfont=tick_font, ticklabelstandoff=0,
               title=dict(text="Time [Year]", font=dict(title_font, size=44), standoff=34)),
)

# the page's default body margin would shift the figure
fig.write_html("out.html", config={"displayModeBar": False},
               post_script="document.body.style.margin='0';")
